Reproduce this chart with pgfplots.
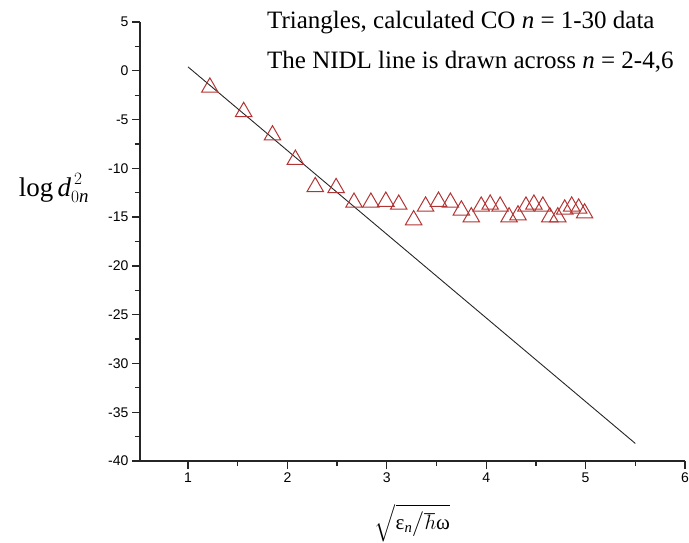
\documentclass[border=0pt]{standalone}
\usepackage{fontspec}
\usepackage{amsmath}
\setmainfont{Liberation Serif}
\newfontfamily\ticksans{Liberation Sans}
\usepackage{pgfplots}
\pgfplotsset{compat=1.18}
\definecolor{tri}{RGB}{178,52,52}
\begin{document}
\begin{tikzpicture}
\begin{axis}[
    name=main,
    scale only axis,
    width=545pt, height=439pt,
    xmin=0.517, xmax=6, ymin=-40, ymax=5,
    axis x line=bottom, axis y line=left,
    axis line style={-, line width=1.3pt, black!85},
    xtick={1,2,...,6}, ytick={-40,-35,...,5},
    minor x tick num=1, minor y tick num=1,
    tick align=outside,
    major tick length=8pt, minor tick length=5pt,
    every tick/.style={line width=1.3pt, black!85},
    tick label style={font=\ticksans\fontsize{14}{16}\selectfont},
    /pgf/number format/assume math mode=true,
    xlabel={\fontsize{21}{22}\selectfont$\sqrt{\text{ε}_{\textit{n}}\big/\hbar\text{ω}}$},
    xlabel style={at={(rel axis cs:0.5,0)}, anchor=center, yshift=-62pt, inner sep=0pt},
    ylabel={\fontsize{27}{28}\selectfont$\text{log}\,\textit{d}^{\,2}_{0\textit{n}}$},
    ylabel style={rotate=-90, at={(rel axis cs:0,0.622)}, anchor=center, xshift=-86pt},
    clip=false,
]
% NIDL line
\addplot[black!85, line width=0.9pt] coordinates {(1,0.4) (5.5,-38.2)};
% calculated CO n = 1-30
\addplot[only marks, mark=triangle, mark size=9.5pt, tri, mark options={line width=1pt}] coordinates {
    (1.22,-1.7) (1.56,-4.2) (1.85,-6.6) (2.08,-9.1) (2.28,-11.9)
    (2.49,-12.0) (2.67,-13.5) (2.84,-13.5) (2.99,-13.4) (3.12,-13.7)
    (3.27,-15.3) (3.39,-13.9) (3.52,-13.4) (3.64,-13.5) (3.75,-14.3)
    (3.85,-15.0) (3.95,-13.9) (4.04,-13.7) (4.14,-13.9) (4.23,-15.0)
    (4.32,-14.8) (4.40,-13.9) (4.48,-13.7) (4.57,-13.9) (4.64,-15.0)
    (4.72,-15.0) (4.79,-14.2) (4.86,-13.9) (4.93,-14.1) (4.99,-14.6)
};
\node[anchor=base west, font=\fontsize{25}{27}\selectfont, inner sep=0pt]
    at ([yshift=-6pt]rel axis cs:0.233,1.0) {Triangles, calculated CO \textit{n} = 1-30 data};
\node[anchor=base west, font=\fontsize{25}{27}\selectfont, inner sep=0pt]
    at ([yshift=-46pt]rel axis cs:0.233,1.0) {The NIDL line is drawn across \textit{n} = 2-4,6};
\end{axis}
\pgfresetboundingbox
\path (main.south west) ++(-140pt,-81pt) rectangle ([shift={(4pt,22pt)}]main.north east);
\end{tikzpicture}
\end{document}
